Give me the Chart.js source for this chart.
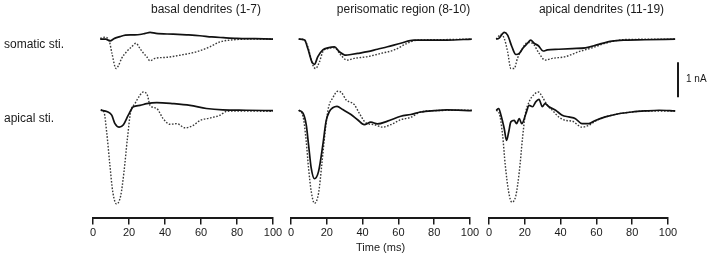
<!DOCTYPE html>
<html>
<head>
<meta charset="utf-8">
<script src="https://cdn.jsdelivr.net/npm/chart.js@4/dist/chart.umd.min.js"></script>
<style>
  html, body { margin: 0; padding: 0; background: #fff; }
  #wrap { position: relative; width: 720px; height: 257px; overflow: hidden; }
  #wrap canvas { position: absolute; top: 0; }
</style>
</head>
<body>
<div id="wrap">
  <canvas id="colBasal" style="left:0px" width="285" height="257"></canvas>
  <canvas id="colPeri" style="left:281px" width="201" height="257"></canvas>
  <canvas id="colApical" style="left:479px" width="241" height="257"></canvas>
</div>
<script>
  // time (ms), current (nA) pairs
  // somatic stimulation row
  const basalSomSolid = [[4,0],[7,0],[9.4,-0.05],[12,0.02],[15,0.07],[18,0.11],[22,0.12],[26,0.13],[29,0.16],[31.7,0.19],[35,0.16],[44.6,0.14],[52,0.12],[59.4,0.095],[66,0.06],[72.4,0.04],[80,0.02],[90,0.01],[100,0]];
  const basalSomDot = [[4,0.02],[6.5,0.05],[9,-0.05],[10.5,-0.4],[12.8,-0.84],[14.2,-0.75],[15.9,-0.55],[18.7,-0.36],[21.5,-0.22],[23.9,-0.12],[26.1,-0.27],[28,-0.4],[29.8,-0.5],[31.7,-0.62],[34.4,-0.55],[41,-0.52],[48.3,-0.46],[57.6,-0.36],[65,-0.22],[70.6,-0.08],[76,-0.03],[87,0],[100,0]];
  const periSomSolid = [[4.3,0],[7.6,-0.03],[9.4,-0.27],[11.7,-0.65],[13.1,-0.72],[15,-0.5],[17.8,-0.31],[20.6,-0.25],[24.3,-0.22],[27,-0.36],[30.7,-0.46],[33.5,-0.44],[37.2,-0.41],[42.8,-0.36],[48.3,-0.29],[53.9,-0.22],[61.3,-0.12],[68.7,-0.03],[76,-0.03],[87,-0.03],[101,0]];
  const periSomDot = [[4.3,0],[7.6,-0.03],[9.4,-0.22],[12.2,-0.74],[13.7,-0.84],[15.9,-0.65],[17.8,-0.36],[20.6,-0.27],[24.3,-0.25],[27.9,-0.46],[31.3,-0.6],[35.4,-0.55],[42.8,-0.5],[50.2,-0.41],[57.6,-0.31],[65,-0.12],[70.6,-0.03],[80,-0.02],[101,0]];
  const apicalSomSolid = [[4,0],[5.5,0.02],[8.5,0.19],[10.4,0.11],[12.8,-0.22],[15,-0.44],[16.9,-0.41],[19.1,-0.25],[21.5,-0.12],[23.3,-0.03],[25.2,-0.12],[27.6,-0.19],[30.2,-0.34],[32.6,-0.31],[39,-0.29],[46.5,-0.27],[53.9,-0.25],[61.3,-0.15],[68.7,-0.06],[76,-0.03],[87,-0.02],[104,0]];
  const apicalSomDot = [[4,0],[6.7,0.13],[8.5,0.02],[10.4,-0.36],[12.2,-0.84],[14.1,-0.84],[15.9,-0.55],[18.7,-0.27],[21.5,-0.1],[24.3,-0.12],[28,-0.41],[31.3,-0.6],[35.4,-0.55],[42.8,-0.5],[50.2,-0.36],[57.6,-0.25],[65,-0.12],[72.4,-0.03],[80,-0.01],[104,0]];

  // apical stimulation row
  const basalApiSolid = [[4.3,0],[8,-0.04],[10.4,-0.14],[12.2,-0.38],[14.6,-0.48],[16.9,-0.41],[19.6,-0.14],[22.4,0.1],[26.1,0.14],[29.8,0.19],[35.4,0.22],[44.6,0.19],[53.9,0.14],[63,0.05],[72,0.01],[85,0],[100,-0.01]];
  const basalApiDot = [[4.3,0.02],[6.1,-0.05],[7.6,-0.62],[9.4,-1.57],[11,-2.33],[13.1,-2.67],[15.4,-2.43],[17.2,-1.76],[19.1,-0.81],[20.9,-0.05],[23.3,0.19],[26.1,0.43],[27.9,0.52],[30.2,0.43],[31.7,0.14],[35.4,0.05],[39,-0.24],[42.8,-0.4],[46.5,-0.38],[51.1,-0.5],[55.7,-0.43],[59.4,-0.29],[65,-0.22],[70.6,-0.14],[74.3,-0.03],[80,-0.02],[100,-0.03]];
  const periApiSolid = [[4.3,0],[6.7,-0.08],[8.5,-0.41],[9.8,-0.98],[11.3,-1.65],[13.1,-1.95],[15.4,-1.74],[17.8,-0.98],[19.6,-0.31],[21.5,-0.03],[23.3,0.07],[25.7,0.11],[28.9,0.02],[33.5,-0.12],[37.2,-0.27],[40.9,-0.41],[44.6,-0.34],[48.3,-0.39],[53.9,-0.31],[61.3,-0.17],[66.9,-0.12],[72.4,-0.05],[80,-0.01],[87,0.01],[101,-0.01]];
  const periApiDot = [[4.3,0],[6.7,-0.17],[8.5,-0.88],[9.8,-1.65],[11.3,-2.31],[13.1,-2.65],[15.4,-2.36],[17.2,-1.55],[19.1,-0.6],[20.9,0.07],[23.3,0.35],[26.1,0.54],[28.3,0.5],[30.7,0.3],[35.4,0.16],[38.1,-0.08],[41.9,-0.36],[46.5,-0.41],[51.1,-0.48],[55.7,-0.41],[61.3,-0.27],[66.9,-0.2],[72.4,-0.05],[80,-0.01],[101,0]];
  const apicalApiSolid = [[4,0],[5.4,0.05],[6.7,-0.14],[8.5,-0.52],[9.8,-0.86],[11,-0.62],[12.2,-0.33],[14.1,-0.29],[15.4,-0.38],[16.9,-0.24],[18.3,-0.38],[20.6,-0.1],[22.4,0.14],[24.3,0.1],[26.1,0.24],[27.9,0.31],[29.8,0.1],[31.3,0.19],[33.5,0.1],[37.2,0],[40.9,-0.14],[44.6,-0.19],[48.3,-0.24],[51.9,-0.38],[55.7,-0.38],[59.4,-0.29],[65,-0.19],[72.4,-0.1],[79.8,-0.05],[87.2,-0.02],[95,0],[104,-0.02]];
  const apicalApiDot = [[4,0],[5.8,-0.1],[7.6,-0.71],[9.1,-1.57],[11,-2.33],[12.8,-2.62],[15,-2.43],[16.9,-1.76],[18.7,-0.81],[20.2,-0.14],[22.4,0.24],[25.2,0.45],[27.6,0.52],[29.8,0.38],[32.6,0.14],[35.4,0],[39,-0.19],[42.8,-0.29],[46.5,-0.31],[51.9,-0.48],[55.7,-0.43],[59.4,-0.31],[65,-0.19],[72.4,-0.1],[79.8,-0.05],[87.2,-0.02],[104,-0.02]];

  const panelTitles = ['basal dendrites (1-7)', 'perisomatic region (8-10)', 'apical dendrites (11-19)'];
  const rowLabels = ['somatic sti.', 'apical sti.'];
  const timeTicks = [0, 20, 40, 60, 80, 100];
  const scaleBarNA = 1;

  const FONT = "'Liberation Sans', Arial, sans-serif";
  const INK = '#1a1a1a';

  // titles, row labels and the 1 nA bar
  const panelText = {
    id: 'panelText',
    afterDraw(chart, args, opts) {
      const ctx = chart.ctx;
      const area = chart.chartArea;
      const yS = chart.scales.ySom;
      const yA = chart.scales.yApi;
      ctx.save();
      ctx.fillStyle = INK;
      ctx.textBaseline = 'middle';
      ctx.font = '12px ' + FONT;
      ctx.textAlign = 'center';
      ctx.fillText(opts.title, (area.left + area.right) / 2 + 23, 10);

      if (opts.rowLabels) {
        ctx.textAlign = 'left';
        ctx.fillText(rowLabels[0], 4, yS.getPixelForValue(0) + 6);
        ctx.fillText(rowLabels[1], 4, yA.getPixelForValue(0) + 8);
      }

      if (opts.scaleBar) {
        const x = area.right + 10;
        const y0 = yA.getPixelForValue(0.37);
        const y1 = yA.getPixelForValue(0.37 + scaleBarNA);
        ctx.strokeStyle = INK;
        ctx.lineWidth = 2;
        ctx.beginPath();
        ctx.moveTo(x, y0);
        ctx.lineTo(x, y1);
        ctx.stroke();
        ctx.font = '10px ' + FONT;
        ctx.textAlign = 'left';
        ctx.fillText(scaleBarNA + ' nA', x + 8, (y0 + y1) / 2);
      }
      ctx.restore();
    }
  };

  function toXY(pairs) {
    return pairs.map(([t, v]) => ({ x: t, y: v }));
  }

  function trace(pairs, axis, dotted) {
    return {
      data: toXY(pairs),
      yAxisID: axis,
      borderColor: dotted ? '#3a3a3a' : '#111',
      borderWidth: dotted ? 1.4 : 1.7,
      borderDash: dotted ? [1.6, 1.6] : [],
      cubicInterpolationMode: 'monotone',
      pointRadius: 0,
      clip: false
    };
  }

  function makeColumn(id, idx, somSolid, somDot, apiSolid, apiDot, padding, extra) {
    return new Chart(document.getElementById(id), {
      type: 'line',
      data: {
        datasets: [
          trace(somSolid, 'ySom', false),
          trace(apiSolid, 'yApi', false),
          trace(somDot, 'ySom', true),
          trace(apiDot, 'yApi', true)
        ]
      },
      options: {
        responsive: false,
        animation: false,
        events: [],
        layout: { padding },
        plugins: {
          legend: { display: false },
          tooltip: { enabled: false },
          panelText: Object.assign({ title: panelTitles[idx] }, extra)
        },
        scales: {
          x: {
            type: 'linear',
            min: 0,
            max: 100,
            afterBuildTicks: axis => { axis.ticks = timeTicks.map(v => ({ value: v })); },
            grid: {
              drawOnChartArea: false,
              drawTicks: true,
              tickLength: 7,
              color: INK,
              lineWidth: 1.5
            },
            border: { display: true, color: INK, width: 2 },
            ticks: {
              color: INK,
              padding: 2,
              maxRotation: 0,
              font: { family: FONT, size: 11 }
            },
            title: {
              display: true,
              text: 'Time (ms)',
              color: idx === 1 ? INK : 'rgba(0,0,0,0)',
              padding: { top: 0, bottom: 2 },
              font: { family: FONT, size: 11 }
            }
          },
          ySom: { display: false, min: -5.086, max: 0.543 },
          yApi: { display: false, min: -3.057, max: 2.571 }
        }
      },
      plugins: [panelText]
    });
  }

  makeColumn('colBasal', 0, basalSomSolid, basalSomDot, basalApiSolid, basalApiDot,
    { left: 93, right: 12, top: 20, bottom: 0 }, { rowLabels: true });
  makeColumn('colPeri', 1, periSomSolid, periSomDot, periApiSolid, periApiDot,
    { left: 10, right: 12, top: 20, bottom: 0 }, {});
  makeColumn('colApical', 2, apicalSomSolid, apicalSomDot, apicalApiSolid, apicalApiDot,
    { left: 10, right: 52, top: 20, bottom: 0 }, { scaleBar: true });
</script>
</body>
</html>
